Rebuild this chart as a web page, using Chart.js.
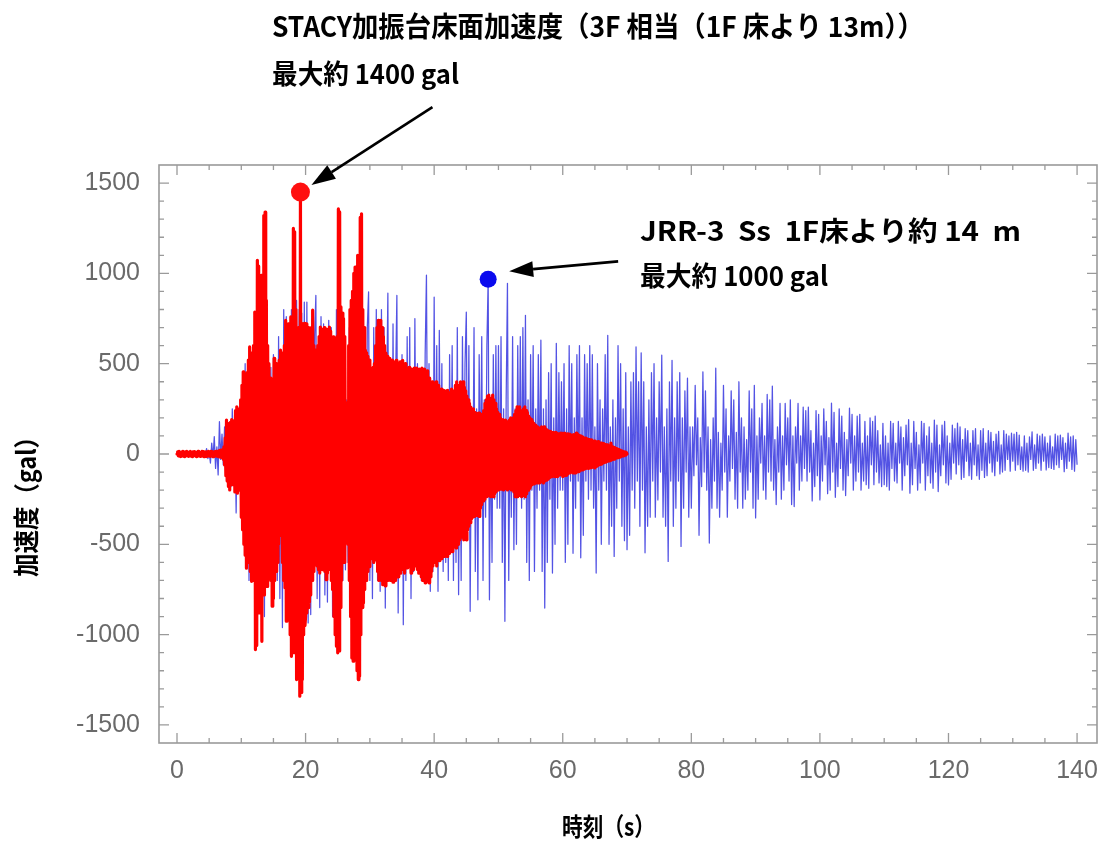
<!DOCTYPE html>
<html><head><meta charset="utf-8">
<script src="https://cdn.jsdelivr.net/npm/chart.js@4.4.1/dist/chart.umd.min.js"></script>
<style>html,body{margin:0;padding:0;background:#fff;}canvas{display:block;}</style>
</head><body>
<canvas id="c" width="1110" height="845"></canvas>
<script>
// ---------- data ----------
const xTickLabels = [0, 20, 40, 60, 80, 100, 120, 140];
const yTickLabels = [-1500, -1000, -500, 0, 500, 1000, 1500];

// JRR-3 Ss, 1F floor + ~14 m (sampled every 0.2 s, 0..140 s)
const blueStep = 0.2;
const blueValues = [
0,3,-4,5,-3,4,-5,3,-4,5,
-3,6,-5,4,-6,5,-4,6,-5,8,
-10,15,-8,30,-25,12,-50,60,-20,96,
-80,40,-116,179,-30,110,-60,150,-20,90,
-150,60,-180,250,-90,160,-326,240,-100,180,
-300,150,-450,500,-200,350,-700,250,-450,500,
-700,300,-900,750,-400,780,-800,350,-900,650,
-530,200,-600,480,-300,550,-650,250,-700,650,
-800,300,-961,800,-400,760,-900,380,-850,800,
-880,420,-900,850,-300,800,-500,780,-850,841,
-800,841,-935,400,-889,750,-300,650,878,-800,
300,-850,760,-400,720,-780,350,-820,740,-360,
700,-900,350,-850,800,-400,720,-800,360,-700,
650,-641,300,-600,700,-350,680,-800,320,-850,
700,-400,750,-713,350,-700,600,-300,700,897,
-700,350,-800,700,-300,800,-700,400,-760,800,
-350,700,-853,300,890,-700,250,-600,720,-300,
400,878,-880,200,-650,550,-945,250,-700,650,
-300,700,-800,250,-650,750,-300,500,-600,350,
-700,300,-650,550,990,-250,500,-760,300,-650,
869,-300,600,-760,685,-200,500,-650,250,-600,
300,-700,550,-250,600,-700,300,-600,700,-779,
250,-700,650,-300,500,786,-350,600,-871,200,
-300,700,-650,250,-807,550,-200,650,-700,300,
-350,600,967,-807,200,-600,550,-250,600,-300,
600,-300,650,-600,250,-926,300,945,-700,200,
-350,650,-530,250,-500,600,-200,650,-300,700,
-250,768,-600,300,-700,550,-200,600,-650,250,
-300,550,-200,630,-650,250,-853,300,-600,450,
-250,500,-659,200,-500,613,-300,450,-200,400,
-200,500,-600,250,-500,600,-150,500,-550,200,
-300,550,-150,600,-575,200,-450,550,-150,500,
-250,600,-200,550,-300,150,-659,500,-200,300,
-500,250,-150,550,-200,657,-500,150,-400,300,
-567,200,-300,600,-150,500,-400,250,-480,450,
-530,150,-450,400,-200,450,-300,593,-150,400,
-400,560,-200,400,-547,150,-400,300,-350,450,
-150,500,-350,200,-254,400,-100,547,-350,150,
-400,250,-595,400,-150,519,-400,200,-300,400,
-150,450,-512,200,-300,350,-100,420,-350,150,
-300,150,-120,380,-60,200,-450,90,-180,455,
-100,350,-200,150,-493,80,-300,200,-150,475,
-300,120,-350,60,-200,380,-100,250,-350,100,
-150,350,-80,300,-250,120,-300,400,-100,200,
-300,150,-250,80,-200,350,-100,250,-300,380,
-354,100,-250,200,-50,280,-200,100,-250,330,
-100,300,-150,376,-200,80,-280,150,-100,280,
-250,100,-200,280,-60,200,-150,300,-280,100,
-291,150,-50,280,-200,100,-150,260,-80,240,
-150,260,-100,130,-260,60,-180,240,-120,220,
-254,100,-150,250,-60,180,-220,90,-200,282,
-100,230,-240,60,-180,250,-80,210,-200,120,
-230,80,-120,254,-50,220,-200,100,-150,210,
-100,220,-200,60,-150,180,-170,100,-190,200,
-60,180,-170,210,-100,130,-160,50,-180,170,
-170,100,-180,60,-200,180,-80,170,-150,60,
-160,180,-50,150,-200,90,-120,160,-60,190,
-217,60,-170,180,-80,120,-200,50,-160,180,
-50,170,-200,100,-120,150,-160,60,-190,188,
-100,160,-208,50,-120,160,-60,180,-160,100,
-171,60,-140,160,-50,140,-110,171,-60,150,
-140,80,-130,140,-40,130,-120,60,-140,130,
-60,140,-120,50,-140,130,-90,140,-130,60,
-120,130,-50,120,-100,70,-120,110,-40,125,
-110,50,-100,130,-90,110,-30,100,-95,115,
-40,110,-90,120,-60,105,-85,40,-95,100,
-90,60,-100,95,-30,123,-90,50,-80,110,
-50,100,-90,110,-40,95,-88,60,-75,100,
-80,40,-85,110,-60,100,-75,105,-30,90,
-98,60,-80,116,-40,95,-85,100,-95,80,
-60
];

// STACY shaking-table floor acceleration (sampled every 0.1 s, 0..70 s)
const redStep = 0.1;
const redValues = [
0,12,-10,15,-12,8,-14,10,-8,14,
-12,10,-15,12,-9,14,-11,9,-13,11,
-10,14,-12,8,-15,12,-10,13,-9,11,
-14,10,-12,15,-8,11,-13,9,-12,14,
-10,13,-15,11,-9,12,-14,10,-11,15,
-12,9,-13,14,-10,12,-15,11,-9,13,
-11,15,-12,10,-14,18,-16,20,-18,22,
-20,25,-30,40,-60,90,-120,188,-150,170,
-180,160,-199,175,-140,190,-170,150,-160,185,
-210,240,-190,261,-217,230,-200,250,-190,300,
-350,380,-420,455,-500,430,-560,400,-632,450,
-600,520,-580,593,-650,540,-705,560,-620,600,
-700,786,-1083,700,-1060,1072,-820,1040,-880,680,
-750,989,-1037,820,-700,1320,-780,1339,-650,850,
-733,600,-680,500,-620,420,-700,271,-843,300,
-800,529,-700,480,-650,500,-600,450,-500,520,
-383,575,-450,520,-600,560,-700,600,-740,740,
-926,700,-850,720,-900,680,-1000,759,-1120,700,
-1050,1249,-1100,1230,-1000,800,-1249,482,-1150,700,
650,-1341,1450,-1320,724,-1249,700,-1000,724,-950,
-900,720,-880,650,-850,700,-820,680,-780,700,
-700,796,-650,600,-586,575,-600,550,-620,600,
-640,650,-659,703,-600,680,-640,690,-620,700,
-650,680,-696,690,-660,650,-640,703,-600,680,
-700,640,-750,648,-900,620,-1000,600,-1064,650,
-1101,1357,-1090,1340,-850,814,-700,780,-600,750,
-600,650,-300,282,-326,260,-500,600,-700,800,
-900,850,-1130,900,-1147,1000,-1000,1035,-1100,1000,
-1200,1100,-1249,1000,-1230,1310,-1000,1330,-850,800,
-825,700,-750,575,-700,560,-650,540,-600,520,
-623,464,-580,450,-560,480,-600,500,-586,600,
-586,700,-650,740,-700,720,-680,740,-700,700,
-724,650,-700,600,-730,558,-680,540,-700,520,
-680,530,-700,500,-690,520,-710,480,-670,510,
-700,519,-650,500,-680,480,-640,510,-660,490,
-620,519,-640,480,-659,500,-600,470,-630,460,
-600,480,-620,450,-659,470,-600,440,-640,475,
-620,460,-600,475,-640,450,-660,470,-600,460,
-680,475,-700,450,-690,470,-713,440,-680,460,
-700,400,-713,420,-680,380,-650,400,-620,390,
-600,380,-580,400,-620,360,-567,380,-590,353,
-560,360,-580,340,-550,353,-567,330,-540,350,
-567,353,-520,340,-550,330,-500,360,-540,320,
-500,350,-480,380,-520,400,-475,360,-500,380,
-475,400,-460,380,-440,400,-475,370,-450,350,
-475,320,-420,300,-400,280,-380,260,-360,240,
-350,250,-346,230,-330,226,-340,210,-320,226,
-346,226,-300,200,-280,220,-260,240,-250,280,
-240,300,-236,320,-230,326,-220,300,-236,310,
-230,326,-236,300,-220,280,-210,250,-200,230,
-199,220,-190,200,-195,188,-180,190,-199,180,
-190,188,-185,170,-199,180,-190,188,-180,200,
-199,188,-190,200,-210,220,-236,240,-230,261,
-236,250,-220,261,-230,240,-236,230,-220,250,
-230,261,-236,240,-220,230,-200,210,-190,200,
-180,190,-170,180,-160,170,-165,160,-160,151,
-160,151,-150,145,-160,140,-155,151,-150,145,
-160,151,-150,140,-145,135,-140,130,-135,125,
-130,125,-125,120,-125,118,-120,116,-125,120,
-120,116,-125,110,-118,112,-115,116,-110,115,
-125,110,-120,116,-115,110,-118,112,-110,105,
-105,110,-100,105,-98,100,-105,108,-100,102,
-105,116,-100,110,-98,105,-95,100,-90,98,
-88,95,-85,90,-82,88,-80,85,-77,82,
-80,80,-77,75,-75,78,-72,70,-70,72,
-77,70,-68,65,-65,68,-60,62,-58,60,
-55,61,-50,58,-48,55,-45,52,-42,50,
-40,48,-38,45,-35,61,-33,40,-30,38,
-28,35,-25,30,-22,28,-20,25,-18,22,
-15,18,-12,15,-10,12,-8,10,-6,8,
0
];

// marked maxima
const redPeakTime = [19.2];
const redPeakValue = [1450];
const bluePeakTime = [48.4];
const bluePeakValue = [967];

// texts
const redNoteLines = ['STACY加振台床面加速度（3F 相当（1F 床より 13m））', '最大約 1400 gal'];
const blueNoteLines = ['JRR-3  Ss  1F床より約 14  m', '最大約 1000 gal'];
const xTitle = '時刻（s）';
const yTitle = '加速度（gal）';

// ---------- build ----------
const blueData = blueValues.map((v, i) => ({x: Math.round(i * blueStep * 100) / 100, y: v}));
const redData = redValues.map((v, i) => ({x: Math.round(i * redStep * 100) / 100, y: v}));
const redPeak = redPeakTime.map((t, i) => ({x: t, y: redPeakValue[i]}));
const bluePeak = bluePeakTime.map((t, i) => ({x: t, y: bluePeakValue[i]}));

const CJK = '"Noto Sans CJK JP", "Noto Sans CJK SC", sans-serif';
const FRAME = '#9a9a9a';

function fitText(ctx, text, left, cy, width, size) {
  ctx.save();
  ctx.font = 'bold ' + size + 'px ' + CJK;
  const w = ctx.measureText(text).width;
  ctx.translate(left, cy);
  ctx.scale(width / w, 1);
  ctx.textAlign = 'left';
  ctx.textBaseline = 'middle';
  ctx.fillStyle = '#000';
  ctx.fillText(text, 0, 0);
  ctx.restore();
}

function arrow(ctx, x1, y1, x2, y2) {
  const ang = Math.atan2(y2 - y1, x2 - x1);
  const hl = 24, hw = 8;
  const bx = x2 - hl * Math.cos(ang), by = y2 - hl * Math.sin(ang);
  ctx.save();
  ctx.strokeStyle = '#000';
  ctx.fillStyle = '#000';
  ctx.lineWidth = 2.6;
  ctx.beginPath();
  ctx.moveTo(x1, y1);
  ctx.lineTo(bx, by);
  ctx.stroke();
  ctx.beginPath();
  ctx.moveTo(x2, y2);
  ctx.lineTo(bx + hw * Math.sin(ang), by - hw * Math.cos(ang));
  ctx.lineTo(bx - hw * Math.sin(ang), by + hw * Math.cos(ang));
  ctx.closePath();
  ctx.fill();
  ctx.restore();
}

const framePlugin = {
  id: 'frame',
  afterDatasetsDraw(chart) {
    const ctx = chart.ctx;
    const a = chart.chartArea;
    const xs = chart.scales.x, ys = chart.scales.y;
    ctx.save();
    ctx.strokeStyle = FRAME;
    ctx.lineWidth = 1.6;
    ctx.strokeRect(a.left, a.top, a.right - a.left, a.bottom - a.top);
    ctx.lineWidth = 1.3;
    ctx.beginPath();
    for (let v = 0; v <= 140; v += 5) {
      const p = xs.getPixelForValue(v);
      const len = (v % 20 === 0) ? 10 : 5;
      ctx.moveTo(p, a.bottom); ctx.lineTo(p, a.bottom - len);
      ctx.moveTo(p, a.top); ctx.lineTo(p, a.top + len);
    }
    for (let v = -1500; v <= 1500; v += 100) {
      const p = ys.getPixelForValue(v);
      const len = (v % 500 === 0) ? 10 : 5;
      ctx.moveTo(a.left, p); ctx.lineTo(a.left + len, p);
      ctx.moveTo(a.right, p); ctx.lineTo(a.right - len, p);
    }
    ctx.stroke();
    ctx.restore();
  },
  afterDraw(chart) {
    const ctx = chart.ctx;
    const xs = chart.scales.x, ys = chart.scales.y;
    // notes
    fitText(ctx, redNoteLines[0], 272, 26, 652, 28);
    fitText(ctx, redNoteLines[1], 272, 74, 187, 27);
    fitText(ctx, blueNoteLines[0], 640, 231, 381, 27);
    fitText(ctx, blueNoteLines[1], 640, 276, 188, 27);
    // arrows relative to the marked maxima
    const rx = xs.getPixelForValue(redPeakTime[0]), ry = ys.getPixelForValue(redPeakValue[0]);
    arrow(ctx, rx + 132, ry - 85, rx + 11, ry - 7);
    const bx = xs.getPixelForValue(bluePeakTime[0]), by = ys.getPixelForValue(bluePeakValue[0]);
    arrow(ctx, bx + 130, by - 18, bx + 21, by - 8);
    // axis titles
    fitText(ctx, xTitle, 562, 826, 93, 25);
    ctx.save();
    ctx.translate(26.5, 577);
    ctx.rotate(-Math.PI / 2);
    fitText(ctx, yTitle, 0, 0, 152, 26);
    ctx.restore();
  }
};

new Chart(document.getElementById('c').getContext('2d'), {
  type: 'line',
  data: {
    datasets: [
      {label: 'STACY max', data: redPeak, showLine: false, pointRadius: 9.5, pointBackgroundColor: '#ff1010', pointBorderWidth: 0, order: 0},
      {label: 'JRR-3 max', data: bluePeak, showLine: false, pointRadius: 8.5, pointBackgroundColor: '#0a0aee', pointBorderWidth: 0, order: 0},
      {label: 'STACY', data: redData, borderColor: '#ff0000', borderWidth: 3.2, pointRadius: 0, borderJoinStyle: 'round', borderCapStyle: 'round', order: 1},
      {label: 'JRR-3 Ss', data: blueData, borderColor: 'rgba(35,35,220,0.78)', borderWidth: 1.25, pointRadius: 0, borderJoinStyle: 'round', order: 2}
    ]
  },
  options: {
    responsive: false,
    animation: false,
    devicePixelRatio: 1,
    parsing: false,
    normalized: true,
    layout: {padding: {top: 165, right: 13, left: 0, bottom: 0}},
    elements: {line: {tension: 0}},
    plugins: {legend: {display: false}, tooltip: {enabled: false}},
    scales: {
      x: {
        type: 'linear', min: -2.8, max: 143.1,
        grid: {display: false}, border: {display: false},
        afterBuildTicks: s => { s.ticks = xTickLabels.map(v => ({value: v})); },
        afterFit: s => { s.height = 102; },
        ticks: {color: '#6a6a6a', font: {family: '"Liberation Sans", Arial, sans-serif', size: 25}, padding: 5, maxRotation: 0, autoSkip: false, callback: v => String(v)}
      },
      y: {
        type: 'linear', min: -1600, max: 1600,
        grid: {display: false}, border: {display: false},
        afterBuildTicks: s => { s.ticks = yTickLabels.map(v => ({value: v})); },
        afterFit: s => { s.width = 159; },
        ticks: {color: '#6a6a6a', font: {family: '"Liberation Sans", Arial, sans-serif', size: 25}, padding: 11, autoSkip: false, callback: v => String(v)}
      }
    }
  },
  plugins: [framePlugin]
});
</script>
</body></html>
